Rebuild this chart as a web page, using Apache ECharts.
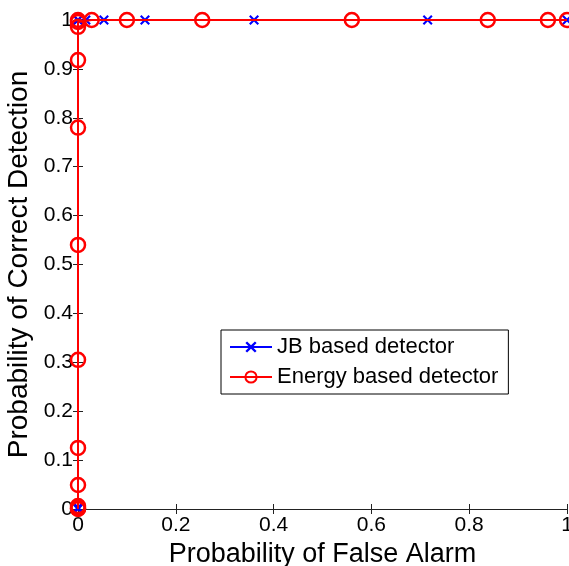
<!DOCTYPE html>
<html>
<head>
<meta charset="utf-8">
<script src="https://cdn.jsdelivr.net/npm/echarts@6/dist/echarts.min.js"></script>
<style>html,body{margin:0;padding:0;background:#fff;overflow:hidden;}#c{width:569px;height:566px;}</style>
</head>
<body>
<div id="c"></div>
<script>
// JB based detector (Pfa, Pd)
const jbPfa = [0, 0, 0, 0, 0.016, 0.053, 0.137, 0.36, 0.715, 1];
const jbPd  = [0, 0.003, 1, 1, 1, 1, 1, 1, 1, 1];
// Energy based detector (Pfa, Pd)
const enPfa = [0, 0, 0, 0, 0, 0, 0, 0, 0, 0, 0, 0, 0, 0.028, 0.1, 0.254, 0.56, 0.838, 0.961, 1];
const enPd  = [0, 0.001, 0.003, 0.006, 0.049, 0.125, 0.305, 0.54, 0.78, 0.918, 0.986, 0.996, 1, 1, 1, 1, 1, 1, 1, 1];
const xTicks = [0, 0.2, 0.4, 0.6, 0.8, 1];
const yTicks = [0, 0.1, 0.2, 0.3, 0.4, 0.5, 0.6, 0.7, 0.8, 0.9, 1];
const seriesNames = ['JB based detector', 'Energy based detector'];

const font = 'Liberation Sans, Arial, Helvetica, sans-serif';
const fmt = v => String(Math.round(v * 10) / 10);
const cross = 'path://M0,1.5L1.5,0L5,3.5L8.5,0L10,1.5L6.5,5L10,8.5L8.5,10L5,6.5L1.5,10L0,8.5L3.5,5Z';

const chart = echarts.init(document.getElementById('c'), null, {renderer: 'canvas'});
const axisCommon = {
  type: 'value', min: 0, max: 1,
  axisLine: {show: true, lineStyle: {color: '#222', width: 1}},
  axisTick: {show: true, inside: true, length: 5, lineStyle: {color: '#222'}},
  splitLine: {show: false}
};
chart.setOption({
  backgroundColor: '#fff',
  animation: false,
  grid: {left: 78, right: 2, top: 20, bottom: 57, containLabel: false, outerBoundsMode: 'none'},
  xAxis: [
    Object.assign({}, axisCommon, {
      interval: 0.2, position: 'bottom',
      axisLabel: {color: '#000', fontSize: 21, fontFamily: font, margin: 6, formatter: fmt},
      name: 'Probability of False Alarm', nameLocation: 'middle', nameGap: 29,
      nameTextStyle: {color: '#000', fontSize: 27, fontFamily: font}
    }),
    Object.assign({}, axisCommon, {interval: 0.2, position: 'top', axisLabel: {show: false}})
  ],
  yAxis: [
    Object.assign({}, axisCommon, {
      interval: 0.1, position: 'left',
      axisLabel: {color: '#000', fontSize: 21, fontFamily: font, margin: 5, formatter: fmt},
      name: 'Probability of Correct Detection', nameLocation: 'middle', nameGap: 42,
      nameTextStyle: {color: '#000', fontSize: 28, fontFamily: font}
    }),
    Object.assign({}, axisCommon, {interval: 0.1, position: 'right', axisLabel: {show: false}})
  ],
  legend: {
    left: 221, top: 330, orient: 'vertical',
    backgroundColor: '#fff', borderColor: '#000', borderWidth: 1,
    padding: [6, 10, 6, 8], itemGap: 8, itemWidth: 42, itemHeight: 14,
    textStyle: {color: '#000', fontSize: 22, fontFamily: font},
    data: seriesNames
  },
  series: [
    {
      name: seriesNames[0], type: 'line', clip: false,
      data: jbPfa.map((x, i) => [x, jbPd[i]]),
      symbol: cross, symbolSize: 10,
      lineStyle: {color: '#0000ff', width: 2},
      itemStyle: {color: '#0000ff'},
      z: 2
    },
    {
      name: seriesNames[1], type: 'line', clip: false,
      data: enPfa.map((x, i) => [x, enPd[i]]),
      symbol: 'circle', symbolSize: 14,
      lineStyle: {color: '#ff0000', width: 2},
      itemStyle: {color: 'rgba(0,0,0,0)', borderColor: '#ff0000', borderWidth: 2.5},
      z: 3
    }
  ]
});
</script>
</body>
</html>
